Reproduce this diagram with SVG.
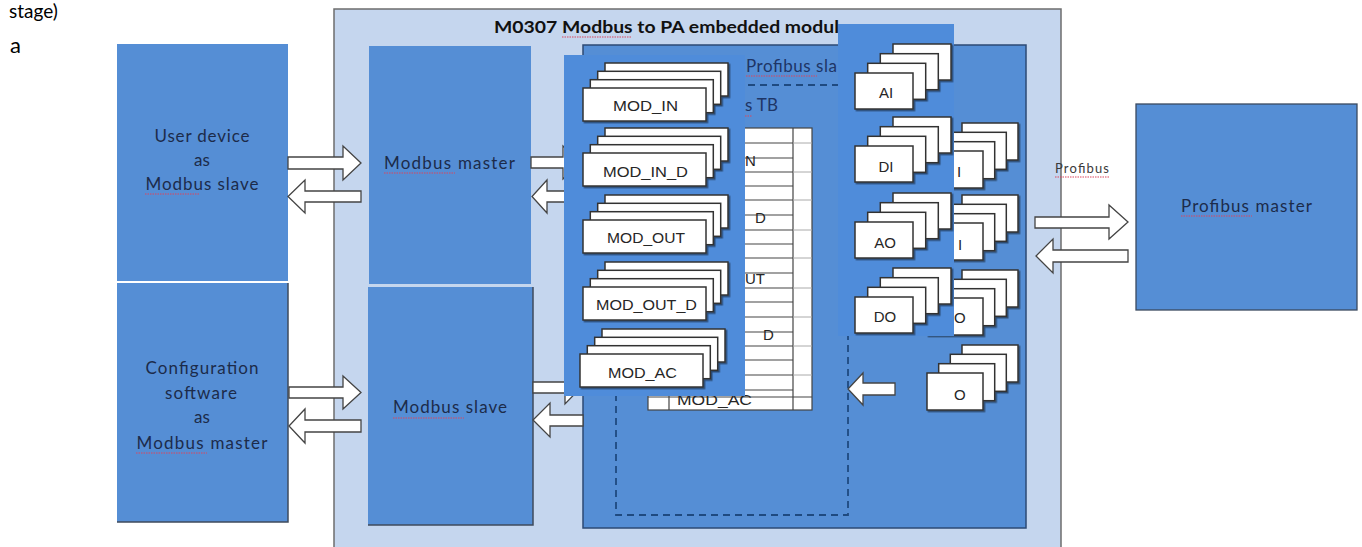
<svg xmlns="http://www.w3.org/2000/svg" xmlns:xlink="http://www.w3.org/1999/xlink" width="1362" height="547" viewBox="0 0 1362 547">
<style>
.box{fill:#558ED5}
.lbl{font-family:Lato,"Liberation Sans",sans-serif;font-size:17px;fill:#1c2b4a}
.card{fill:#fff;stroke:#333;stroke-width:1.5}
.ctx{font-family:"Liberation Sans",Arial,sans-serif;font-size:15px;fill:#262626}
.arrow{fill:#fff;stroke:#444;stroke-width:1.3}
.sq{stroke:#d9475f;stroke-width:1.1;stroke-dasharray:1.5 1;fill:none}
.tl{stroke:#444;stroke-width:1.2}
.tl2{stroke:#aaa;stroke-width:1}
.patch{fill:#4F8CDA}
</style>
<defs>
<filter id="sh" x="-10%" y="-10%" width="130%" height="140%"><feDropShadow dx="1.5" dy="1.5" stdDeviation="0.7" flood-color="#000" flood-opacity="0.45"/></filter>
<g id="modstack" filter="url(#sh)">
<rect class="card" x="22" y="-25" width="123" height="33"/>
<rect class="card" x="14.7" y="-16.7" width="123" height="33"/>
<rect class="card" x="7.3" y="-8.3" width="123" height="33"/>
<rect class="card" x="0" y="0" width="123" height="33"/>
</g>
<g id="fbstack" filter="url(#sh)">
<rect class="card" x="38" y="-29" width="58" height="36"/>
<rect class="card" x="25.3" y="-19.3" width="58" height="36"/>
<rect class="card" x="12.7" y="-9.7" width="58" height="36"/>
<rect class="card" x="0" y="0" width="58" height="36"/>
</g>
<g id="ustack" filter="url(#sh)">
<rect class="card" x="35" y="-28" width="56" height="37"/>
<rect class="card" x="23.3" y="-18.7" width="56" height="37"/>
<rect class="card" x="11.7" y="-9.3" width="56" height="37"/>
<rect class="card" x="0" y="0" width="56" height="37"/>
</g>
</defs>
<rect width="1362" height="547" fill="#fff"/>
<text x="9" y="18" font-family="Lato,'Liberation Sans',sans-serif" font-size="19" fill="#000">stage)</text>
<text x="10" y="53" font-family="Lato,'Liberation Sans',sans-serif" font-size="22" fill="#000">a</text>

<g id="module">
<rect x="334" y="9" width="727" height="560" fill="#C5D6EE" stroke="#6d6d6d" stroke-width="1.5"/>
<text x="494" y="33" font-family="Lato,'Liberation Sans',sans-serif" font-size="17.5" font-weight="bold" fill="#111" textLength="345" lengthAdjust="spacingAndGlyphs">M0307 Modbus to PA embedded modul</text>
<path class="sq" d="M562,37 H632"/>
</g>

<g id="user-device">
<rect class="box" x="117" y="44" width="171" height="237"/>
<text class="lbl" x="202" y="142" text-anchor="middle" textLength="95" lengthAdjust="spacing">User device</text>
<text class="lbl" x="202" y="166" text-anchor="middle">as</text>
<text class="lbl" x="202" y="190" text-anchor="middle" textLength="113" lengthAdjust="spacing">Modbus slave</text>
<path class="sq" d="M145,194 H200"/>
</g>

<g id="config-software">
<rect class="box" x="117" y="283" width="171" height="239"/>
<path d="M288,283 V522 H117" fill="none" stroke="#3f4b5c" stroke-width="1.5"/>
<text class="lbl" x="202" y="374" text-anchor="middle" textLength="113" lengthAdjust="spacing">Configuration</text>
<text class="lbl" x="201" y="399" text-anchor="middle" textLength="72" lengthAdjust="spacing">software</text>
<text class="lbl" x="202" y="423" text-anchor="middle">as</text>
<text class="lbl" x="202" y="449" text-anchor="middle" textLength="131" lengthAdjust="spacing">Modbus master</text>
<path class="sq" d="M136,453 H207"/>
</g>

<g id="modbus-master">
<rect class="box" x="369" y="46" width="162" height="238"/>
<text class="lbl" x="384" y="169" textLength="131" lengthAdjust="spacing">Modbus master</text>
<path class="sq" d="M384,173 H455"/>
</g>

<g id="modbus-slave">
<rect class="box" x="368" y="287" width="165" height="238"/>
<path d="M533,287 V525 H368" fill="none" stroke="#3f4b5c" stroke-width="1.5"/>
<text class="lbl" x="393" y="413" textLength="114" lengthAdjust="spacing">Modbus slave</text>
<path class="sq" d="M393,418 H464"/>
</g>

<g id="profibus-master">
<rect class="box" x="1136" y="104" width="221" height="206" stroke="#3b4a60" stroke-width="1.3"/>
<text class="lbl" x="1181" y="212" textLength="131" lengthAdjust="spacing">Profibus master</text>
<path class="sq" d="M1181,216 H1252"/>
</g>

<g id="profibus-slave">
<rect class="box" x="583" y="45" width="443" height="483" stroke="#2d4a74" stroke-width="1.5"/>
<text x="746" y="72" font-family="Lato,'Liberation Sans',sans-serif" font-size="17" fill="#1e3566" textLength="91" lengthAdjust="spacing">Profibus sla</text>
<path class="sq" d="M746,76 H817"/>
<text x="745" y="111" font-family="Lato,'Liberation Sans',sans-serif" font-size="17" fill="#1e3566" textLength="33" lengthAdjust="spacing">s TB</text>
<path class="sq" d="M745,116 H752"/>
<rect x="616" y="85" width="232" height="430" fill="none" stroke="#1f4a80" stroke-width="1.8" stroke-dasharray="7 5"/>
</g>

<g id="modbus-tb-table">
<rect x="648" y="128" width="164" height="282" fill="#fff" stroke="#444" stroke-width="1.2"/>
<g class="tl">
<line x1="648" y1="143" x2="793" y2="143"/><line x1="648" y1="158" x2="793" y2="158"/>
<line x1="648" y1="172" x2="793" y2="172"/><line x1="648" y1="186" x2="793" y2="186"/>
<line x1="648" y1="200" x2="793" y2="200"/><line x1="648" y1="215" x2="793" y2="215"/>
<line x1="648" y1="230" x2="793" y2="230"/><line x1="648" y1="244" x2="793" y2="244"/>
<line x1="648" y1="258" x2="793" y2="258"/><line x1="648" y1="273" x2="793" y2="273"/>
<line x1="648" y1="288" x2="793" y2="288"/><line x1="648" y1="302" x2="793" y2="302"/>
<line x1="648" y1="317" x2="793" y2="317"/><line x1="648" y1="332" x2="793" y2="332"/>
<line x1="648" y1="346" x2="793" y2="346"/><line x1="648" y1="360" x2="793" y2="360"/>
<line x1="648" y1="375" x2="793" y2="375"/><line x1="648" y1="390" x2="793" y2="390"/>
<line x1="648" y1="397" x2="812" y2="397"/>
<line x1="793" y1="128" x2="793" y2="410"/>
<line x1="669" y1="128" x2="669" y2="410"/>
</g>
<g class="tl2">
<line x1="793" y1="143" x2="812" y2="143"/><line x1="793" y1="172" x2="812" y2="172"/>
<line x1="793" y1="200" x2="812" y2="200"/><line x1="793" y1="230" x2="812" y2="230"/>
<line x1="793" y1="258" x2="812" y2="258"/><line x1="793" y1="288" x2="812" y2="288"/>
<line x1="793" y1="317" x2="812" y2="317"/><line x1="793" y1="346" x2="812" y2="346"/>
<line x1="793" y1="375" x2="812" y2="375"/>
</g>
<text class="ctx" x="745" y="166" font-size="13">N</text>
<text class="ctx" x="755" y="223" font-size="13">D</text>
<text class="ctx" x="745" y="284" font-size="13">UT</text>
<text class="ctx" x="763" y="340" font-size="13">D</text>
<text class="ctx" x="677" y="405" font-size="14" textLength="75" lengthAdjust="spacingAndGlyphs">MOD_AC</text>
</g>

<g id="function-blocks-under">
<use xlink:href="#ustack" x="927" y="151"/>
<use xlink:href="#ustack" x="927" y="223"/>
<use xlink:href="#ustack" x="927" y="298"/>
<use xlink:href="#ustack" x="927" y="373"/>
<text class="ctx" x="957" y="177" font-size="16">I</text>
<text class="ctx" x="958" y="250" font-size="16">I</text>
<text class="ctx" x="954" y="323" font-size="16">O</text>
<text class="ctx" x="954" y="400" font-size="16">O</text>
</g>

<g id="connectors">
<path class="arrow" d="M288,157 H343 V146 L361,163 L343,180 V169 H288 Z"/>
<path class="arrow" d="M361,191 H305 V180 L288,196.5 L305,213 V202 H361 Z"/>
<path class="arrow" d="M531,157 H563 V146 L581,162.5 L563,179 V168 H531 Z"/>
<path class="arrow" d="M583,191 H547 V180 L532,196.5 L547,213 V202 H583 Z"/>
<path class="arrow" d="M289,387 H343 V376 L361,392.5 L343,409 V398 H289 Z"/>
<path class="arrow" d="M361,420 H305 V409 L289,426 L305,443 V432 H361 Z"/>
<path class="arrow" d="M533,382 H565 V371 L581,387.5 L565,404 V393 H533 Z"/>
<path class="arrow" d="M583,415 H550 V403 L533,420 L550,437 V426 H583 Z"/>
<path class="arrow" d="M1035,217 H1109 V205 L1128,222 L1109,239 V228 H1035 Z"/>
<path class="arrow" d="M1128,250 H1053 V239 L1036,256 L1053,273 V262 H1128 Z"/>
<path class="arrow" d="M895,383 H863 V373 L848,389 L863,405 V395 H895 Z"/>
<text x="1055" y="173" font-family="Lato,'Liberation Sans',sans-serif" font-size="13" fill="#3a3a3a" textLength="54" lengthAdjust="spacing">Profibus</text>
<path class="sq" d="M1055,177 H1110"/>
</g>

<g id="mod-blocks">
<rect class="patch" x="564" y="55" width="181" height="341"/>
<use xlink:href="#modstack" x="583" y="88"/>
<use xlink:href="#modstack" x="583" y="153"/>
<use xlink:href="#modstack" x="583" y="220"/>
<use xlink:href="#modstack" x="583" y="287"/>
<use xlink:href="#modstack" x="580" y="354"/>
<text class="ctx" x="645.5" y="111" text-anchor="middle" font-size="16" textLength="65" lengthAdjust="spacingAndGlyphs">MOD_IN</text>
<text class="ctx" x="645.5" y="177" text-anchor="middle" font-size="16" textLength="85" lengthAdjust="spacingAndGlyphs">MOD_IN_D</text>
<text class="ctx" x="646" y="243" text-anchor="middle" font-size="16" textLength="78" lengthAdjust="spacingAndGlyphs">MOD_OUT</text>
<text class="ctx" x="646.5" y="310" text-anchor="middle" font-size="16" textLength="101" lengthAdjust="spacingAndGlyphs">MOD_OUT_D</text>
<text class="ctx" x="642.5" y="378" text-anchor="middle" font-size="16" textLength="69" lengthAdjust="spacingAndGlyphs">MOD_AC</text>
</g>

<g id="fb-blocks">
<rect class="patch" x="838" y="24" width="116" height="312"/>
<use xlink:href="#fbstack" x="855" y="73"/>
<use xlink:href="#fbstack" x="855" y="146"/>
<use xlink:href="#fbstack" x="855" y="222"/>
<use xlink:href="#fbstack" x="855" y="297"/>
<text class="ctx" x="886" y="98" text-anchor="middle" font-size="17">AI</text>
<text class="ctx" x="886" y="172" text-anchor="middle" font-size="17">DI</text>
<text class="ctx" x="885" y="248" text-anchor="middle" font-size="17">AO</text>
<text class="ctx" x="885" y="322" text-anchor="middle" font-size="17">DO</text>
</g>
</svg>
